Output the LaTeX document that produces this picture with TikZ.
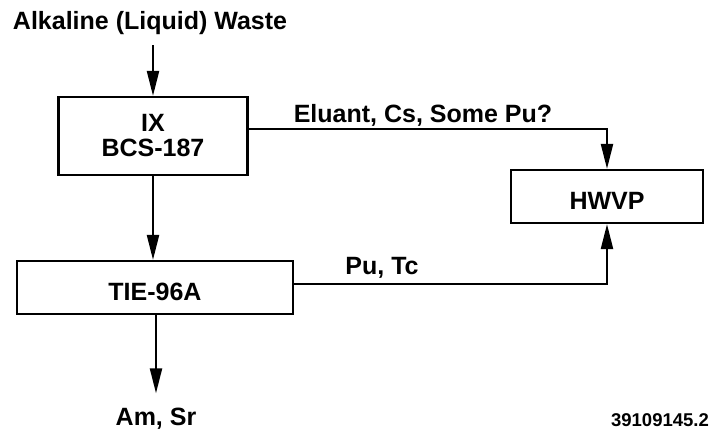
\documentclass[tikz,border=0pt]{standalone}
\usepackage{fontspec}
\setmainfont{Liberation Sans}
\usetikzlibrary{arrows.meta,positioning}

\begin{document}
\begin{tikzpicture}[
  x=1pt,y=-1pt,
  font=\fontsize{25}{25}\selectfont\bfseries,
  stage/.style={draw,line width=2.2pt,inner sep=0pt,align=center},
  lbl/.style={anchor=base,inner sep=0pt},
  arr/.style={-{Triangle[length=25pt,width=12pt]},line width=2.2pt},
]
\useasboundingbox (0,0) rectangle (710,430);
% process units
\node[stage, minimum width=189pt, minimum height=78pt] (ix) at (153,136) {IX\\BCS-187};
\node[stage, minimum width=276pt, minimum height=53pt, text height=26pt] (tie) at (155,287.5) {TIE-96A};
\node[stage, minimum width=192pt, minimum height=53pt, text height=26pt] (hwvp) at (607,196.5) {HWVP};
% stream labels
\node[lbl] (feed) at (150,30) {Alkaline (Liquid) Waste};
\node[lbl] (eluant) at (423,123) {Eluant, Cs, Some Pu?};
\node[lbl] (putc) at (382,275) {Pu, Tc};
\node[lbl] (amsr) at (156,425) {Am, Sr};
\node[lbl, font=\fontsize{18.5}{18.5}\selectfont\bfseries] (docno) at (660,427) {39109145.2};
% streams
\draw[arr] ([yshift=-10pt]feed.south -| ix.north) -- (ix.north);
\draw[arr] (ix.south) -- (ix.south |- tie.north);
\draw[arr] ([yshift=7pt]ix.east) -| (hwvp.north);
\draw[arr] ([yshift=3.5pt]tie.east) -| (hwvp.south);
\draw[arr] (tie.south -| amsr) -- ([yshift=14pt]amsr.north);
\end{tikzpicture}
\end{document}
